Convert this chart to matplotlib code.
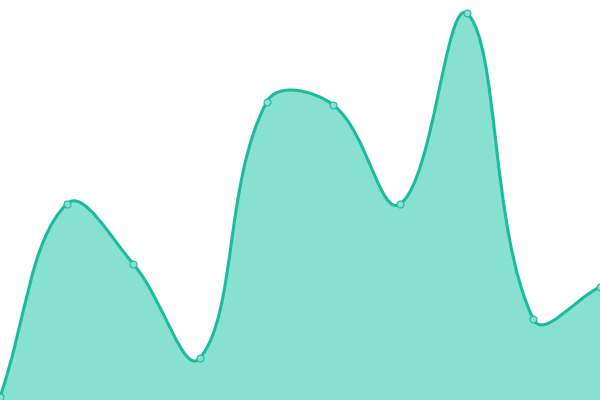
import matplotlib
matplotlib.use('Agg')
import matplotlib.pyplot as plt
from matplotlib.path import Path
from matplotlib.patches import PathPatch
import numpy as np

labels = ['1', '2', '3', '4', '5', '6', '7', '8', '9', '10']
values = [3, 196, 136, 42, 298, 295, 196, 387, 81, 113]
ymax = 400

line_color = '#1abc9c'
fill_color = '#88e0cf'
W, H = 600, 400
tension = 0.4

# pixel space (y up) so the spline tension matches a canvas-style chart
n = len(values)
sx = W / (n - 1)
sy = H / ymax
pts = np.array([[i * sx, v * sy] for i, v in enumerate(values)])


def control_points(p):
    cps = []
    for i in range(len(p)):
        p0 = p[i - 1] if i > 0 else p[i]
        p1 = p[i]
        p2 = p[i + 1] if i < len(p) - 1 else p[i]
        d01 = np.hypot(*(p1 - p0))
        d12 = np.hypot(*(p2 - p1))
        s01 = d01 / (d01 + d12) if d01 + d12 else 0
        s12 = d12 / (d01 + d12) if d01 + d12 else 0
        fa = tension * s01
        fb = tension * s12
        prev = p1 - fa * (p2 - p0)
        nxt = p1 + fb * (p2 - p0)
        prev = np.clip(prev, [0, 0], [W, H])
        nxt = np.clip(nxt, [0, 0], [W, H])
        cps.append((prev, nxt))
    return cps


cps = control_points(pts)
verts = [pts[0]]
codes = [Path.MOVETO]
for i in range(n - 1):
    verts += [cps[i][1], cps[i + 1][0], pts[i + 1]]
    codes += [Path.CURVE4] * 3

# back to data coords
to_data = lambda v: (v[0] / sx, v[1] / sy)
curve = [to_data(v) for v in verts]

fill_verts = curve + [(n - 1, 0), (0, 0), curve[0]]
fill_codes = codes + [Path.LINETO, Path.LINETO, Path.CLOSEPOLY]

fig = plt.figure(figsize=(6, 4), dpi=100)
ax = fig.add_axes([0, 0, 1, 1])
ax.add_patch(PathPatch(Path(fill_verts, fill_codes), facecolor=fill_color,
                       edgecolor='none', zorder=1))
ax.add_patch(PathPatch(Path(curve, codes), facecolor='none',
                       edgecolor=line_color, linewidth=2.2, zorder=2))
ax.plot(range(n), values, linestyle='none', marker='o', markersize=5,
        markerfacecolor='#88e0cf', markeredgecolor=line_color,
        markeredgewidth=0.8, zorder=3)

ax.set_xlim(0, n - 1)
ax.set_ylim(0, ymax)
ax.axis('off')

plt.savefig('out.png', dpi=100)
